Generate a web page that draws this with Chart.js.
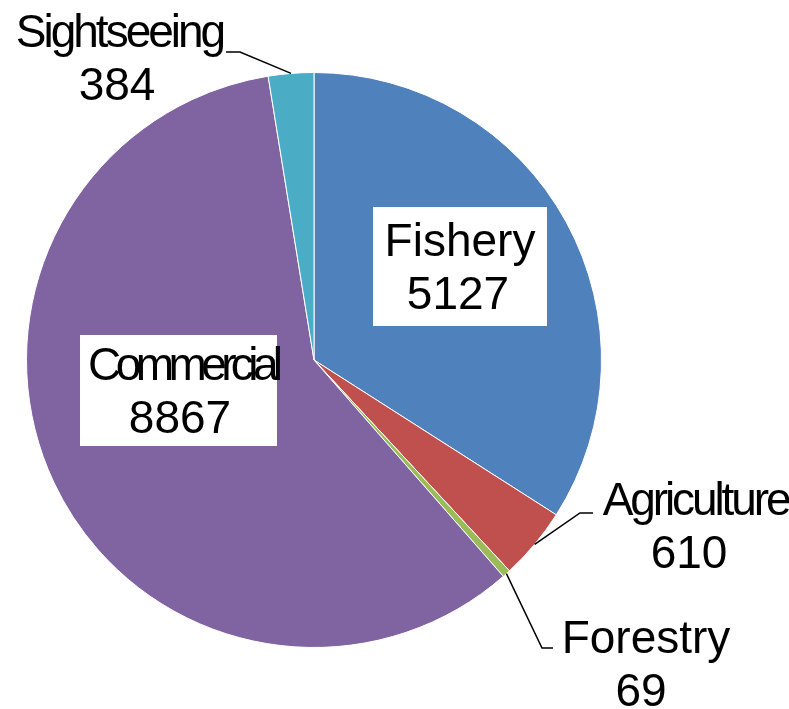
<!DOCTYPE html>
<html>
<head>
<meta charset="utf-8">
<script src="https://cdn.jsdelivr.net/npm/chart.js@4.4.1/dist/chart.umd.min.js"></script>
<style>
  html, body { margin: 0; padding: 0; background: #fff; }
</style>
</head>
<body>
<canvas id="pieChart" width="789" height="709"></canvas>
<script>
const categories = ["Fishery", "Agriculture", "Forestry", "Commercial", "Sightseeing"];
const values = [5127, 610, 69, 8867, 384];
const sliceColors = ["#4F81BD", "#C0504D", "#9BBB59", "#8064A2", "#4BACC6"];

// where each label sits (name centre x, value centre x, first baseline y) and how its leader bends
const labelSpots = [
  { x: 460, vx: 458, y: 256, box: [373, 207, 547, 326], spacing: 0 },
  { x: 694, vx: 689, y: 515, elbow: [580, 513, 593], spacing: -3.1 },
  { x: 646, vx: 641, y: 653, elbow: [542, 648, 553], spacing: 0 },
  { x: 180, vx: 180, y: 380, box: [80, 335, 277, 446], spacing: -5.6 },
  { x: 118, vx: 117, y: 47, elbow: [240, 52, 226], spacing: -3 }
];

const FONT = '46px "Liberation Sans", Arial, sans-serif';
const LINE = 53;

const labelPlugin = {
  id: "pieLabels",
  afterDatasetsDraw(chart) {
    const ctx = chart.ctx;
    const arcs = chart.getDatasetMeta(0).data;
    ctx.save();
    arcs.forEach((arc, i) => {
      const spot = labelSpots[i];
      const p = arc.getProps(["x", "y", "startAngle", "endAngle", "outerRadius"], true);
      const mid = (p.startAngle + p.endAngle) / 2;

      if (spot.box) {
        ctx.fillStyle = "#fff";
        const b = spot.box;
        ctx.fillRect(b[0], b[1], b[2] - b[0], b[3] - b[1]);
      }
      if (spot.elbow) {
        const sx = p.x + Math.cos(mid) * p.outerRadius;
        const sy = p.y + Math.sin(mid) * p.outerRadius;
        ctx.strokeStyle = "#000";
        ctx.lineWidth = 1.5;
        ctx.beginPath();
        ctx.moveTo(sx, sy);
        ctx.lineTo(spot.elbow[0], spot.elbow[1]);
        ctx.lineTo(spot.elbow[2], spot.elbow[1]);
        ctx.stroke();
      }

      ctx.font = FONT;
      ctx.fillStyle = "#000";
      ctx.textAlign = "center";
      ctx.textBaseline = "alphabetic";
      ctx.letterSpacing = spot.spacing + "px";
      ctx.fillText(categories[i], spot.x - spot.spacing / 2, spot.y);
      ctx.letterSpacing = "0px";
      ctx.fillText(String(values[i]), spot.vx, spot.y + LINE);
    });
    ctx.restore();
  }
};

new Chart(document.getElementById("pieChart").getContext("2d"), {
  type: "pie",
  data: {
    labels: categories,
    datasets: [{
      data: values,
      backgroundColor: sliceColors,
      borderColor: "#fff",
      borderWidth: 1
    }]
  },
  options: {
    responsive: false,
    animation: false,
    layout: { padding: { left: 26, right: 187, top: 72, bottom: 61 } },
    plugins: {
      legend: { display: false },
      tooltip: { enabled: false }
    }
  },
  plugins: [labelPlugin]
});
</script>
</body>
</html>
